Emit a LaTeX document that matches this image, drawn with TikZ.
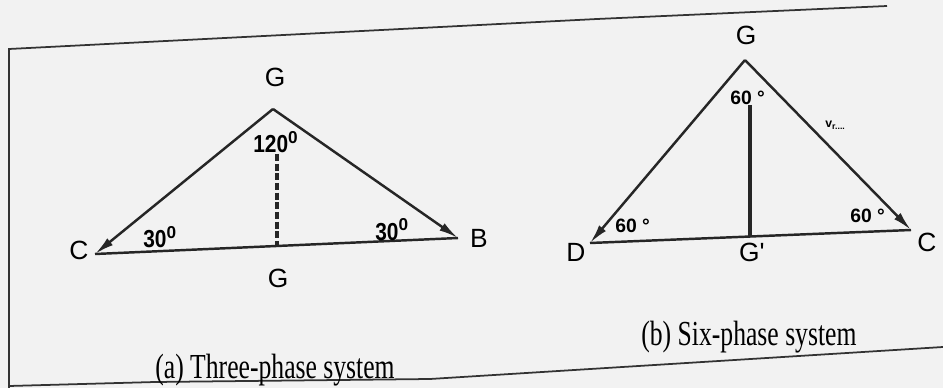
\documentclass[tikz,border=0pt]{standalone}
\usepackage{fontspec}
\setmainfont{Liberation Serif}
\newfontfamily\lsans{Liberation Sans}
\usetikzlibrary{arrows.meta}
\begin{document}
\begin{tikzpicture}[x=0.02cm,y=-0.02cm,
  ln/.style={line width=1.4pt, black!85},
  arr/.style={ln,-{Latex[length=11pt,width=5pt]}},
  lbl/.style={font=\lsans\fontsize{15}{15}\selectfont, inner sep=0},
  ang/.style={font=\lsans\bfseries\fontsize{14}{14}\selectfont, inner sep=0, anchor=base west},
  angs/.style={font=\lsans\bfseries\fontsize{11}{11}\selectfont, inner sep=0, anchor=base west},
  captxt/.style={font=\fontsize{20}{20}\selectfont, inner sep=0, anchor=base west},
  frm/.style={line width=1pt, black!80}]
\fill[black!5] (0,0) rectangle (943,388);
\useasboundingbox (0,0) rectangle (943,388);
% frame
\coordinate (fbl) at (9,388);
\coordinate (ftl) at (9,49);
\coordinate (ftm) at (597,19);
\coordinate (ftr) at (887,6);
\coordinate (bl) at (9,386);
\coordinate (bm1) at (155,382);
\coordinate (bm2) at (430,379);
\coordinate (br) at (943,347);
\draw[frm] (fbl) -- (ftl) -- (ftm) -- (ftr);
\draw[frm] (bl) -- (bm1) -- (bm2) -- (br);
% (a) three-phase
\coordinate (aG) at (273,109);
\coordinate (aC) at (95,254);
\coordinate (aB) at (458,238);
\coordinate (aF) at (277,246);
\coordinate (aT) at (277,154);
\draw[arr] (aG) -- (aC);
\draw[arr] (aG) -- (aB);
\draw[ln] (aC) -- (aB);
\draw[ln, dash pattern=on 4pt off 1.5pt, line width=2pt] (aT) -- (aF);
\node[lbl] (aGl) at (275,77) {G};
\node[lbl] (aFl) at (278,278) {G};
\node[lbl] (aCl) at (79,250) {C};
\node[lbl] (aBl) at (479,238) {B};
\node[ang] (a120) at (253,153) {\scalebox{0.85}[1]{120}\textsuperscript{0}};
\node[ang] (a30l) at (143,248) {\scalebox{0.85}[1]{30}\textsuperscript{0}};
\node[ang] (a30r) at (375,240) {\scalebox{0.85}[1]{30}\textsuperscript{0}};
\node[captxt] (capa) at (155,378) {\scalebox{0.73}[1]{(a) Three-phase system}};
% (b) six-phase
\coordinate (bG) at (745,60);
\coordinate (bD) at (590,243);
\coordinate (bC) at (911,230);
\coordinate (bF) at (750,237);
\coordinate (bT) at (750,105);
\draw[arr] (bG) -- (bD);
\draw[arr] (bG) -- (bC);
\draw[ln] (bD) -- (bC);
\draw[ln, line width=2pt] (bT) -- (bF);
\node[lbl] (bGl) at (746,35) {G};
\node[lbl] (bFl) at (752,252) {G'};
\node[lbl] (bDl) at (576,252) {D};
\node[lbl] (bCl) at (927,242) {C};
\node[angs] (b60t) at (730,105) {60 °};
\node[angs] (b60l) at (615,233) {60 °};
\node[angs] (b60r) at (850,223) {60 °};
\node[inner sep=0, anchor=base west, font=\lsans\bfseries\fontsize{7}{7}\selectfont] (bv) at (825,128) {v\textsubscript{r....}};
\node[captxt] (capb) at (641,345) {\scalebox{0.73}[1]{(b) Six-phase system}};
\end{tikzpicture}
\end{document}
